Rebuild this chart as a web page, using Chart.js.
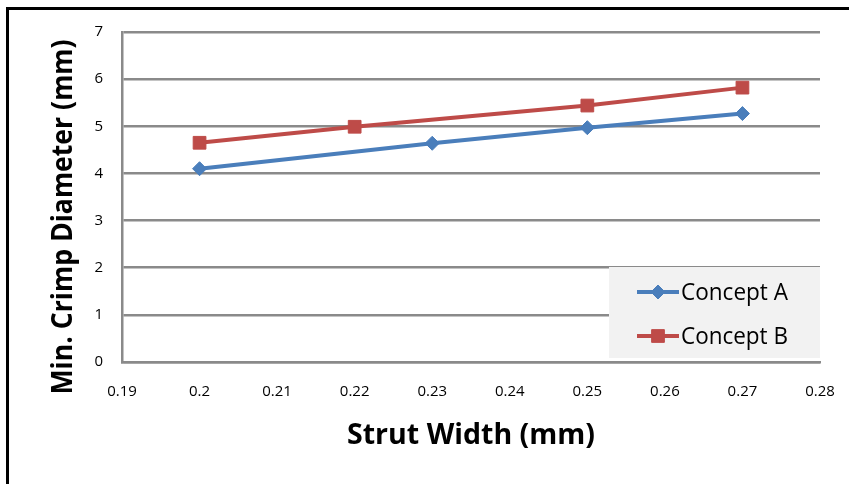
<!DOCTYPE html>
<html>
<head>
<meta charset="utf-8">
<script src="https://cdn.jsdelivr.net/npm/chart.js@4"></script>
<style>
html,body{margin:0;padding:0;background:#fff;}
#wrap{position:relative;width:849px;height:484px;}
</style>
</head>
<body>
<div id="wrap"><canvas id="c" width="849" height="484"></canvas></div>
<script>
const seriesNames = ["Concept A", "Concept B"];
const xA = [0.2, 0.23, 0.25, 0.27];
const yA = [4.1, 4.64, 4.97, 5.27];
const xB = [0.2, 0.22, 0.25, 0.27];
const yB = [4.65, 4.99, 5.44, 5.82];
const xTickLabels = ["0.19","0.2","0.21","0.22","0.23","0.24","0.25","0.26","0.27","0.28"];
const yTickLabels = ["0","1","2","3","4","5","6","7"];
const xTitle = "Strut Width (mm)";
const yTitle = "Min. Crimp Diameter (mm)";

const FONT = "'Open Sans', 'DejaVu Sans', sans-serif";
const BLUE = "#4A7EBB";
const RED = "#BE4B48";
const GRID = "#8A8A8A";

const frame = {
  id: 'frame',
  beforeDraw(chart) {
    const ctx = chart.ctx;
    ctx.save();
    ctx.fillStyle = '#fff';
    ctx.fillRect(0, 0, chart.width, chart.height);
    ctx.fillStyle = '#000';
    ctx.fillRect(6, 7, chart.width, 3);
    ctx.fillRect(6, 7, 3, chart.height);
    ctx.restore();
  }
};

function drawScaledText(ctx, text, x, y, targetW, font, rot) {
  ctx.save();
  ctx.font = font;
  const w = ctx.measureText(text).width;
  ctx.translate(x, y);
  if (rot) ctx.rotate(rot);
  ctx.scale(targetW / w, 1);
  ctx.textAlign = 'center';
  ctx.textBaseline = 'middle';
  ctx.fillStyle = '#000';
  ctx.fillText(text, 0, 0);
  ctx.restore();
}

const titles = {
  id: 'titles',
  afterDraw(chart) {
    const ctx = chart.ctx;
    drawScaledText(ctx, xTitle, 471, 436, 248, "bold 28px " + FONT, 0);
    drawScaledText(ctx, yTitle, 64, 217, 355, "bold 28px " + FONT, -Math.PI / 2);
  }
};

const legendBox = {
  id: 'legendBox',
  afterDatasetsDraw(chart) {
    const ctx = chart.ctx;
    const ca = chart.chartArea;
    ctx.save();
    ctx.fillStyle = '#F2F2F2';
    ctx.fillRect(609, 267, ca.right - 609, 91);
    const rows = [292, 336];
    chart.data.datasets.forEach((ds, i) => {
      const yy = rows[i];
      ctx.strokeStyle = ds.borderColor;
      ctx.lineWidth = 4;
      ctx.beginPath();
      ctx.moveTo(637, yy);
      ctx.lineTo(679, yy);
      ctx.stroke();
      ctx.save();
      ctx.fillStyle = ds.pointBackgroundColor;
      ctx.strokeStyle = ds.pointBorderColor;
      ctx.lineWidth = 1;
      Chart.helpers.drawPoint(ctx, {pointStyle: ds.pointStyle, radius: ds.pointRadius, borderWidth: 1, rotation: 0}, 658, yy);
      ctx.restore();
      ctx.save();
      ctx.font = "23px " + FONT;
      const w = ctx.measureText(ds.label).width;
      ctx.translate(681, yy);
      ctx.scale(107 / w, 1);
      ctx.fillStyle = '#000';
      ctx.textAlign = 'left';
      ctx.textBaseline = 'middle';
      ctx.fillText(ds.label, 0, 1);
      ctx.restore();
    });
    ctx.restore();
  }
};

new Chart(document.getElementById('c'), {
  type: 'line',
  data: {
    datasets: [
      {
        label: seriesNames[0],
        data: xA.map((x, i) => ({x: x, y: yA[i]})),
        borderColor: BLUE,
        backgroundColor: BLUE,
        pointBackgroundColor: BLUE,
        pointBorderColor: BLUE,
        borderWidth: 4,
        pointStyle: 'rectRot',
        pointRadius: 7,
        pointBorderWidth: 1,
        tension: 0
      },
      {
        label: seriesNames[1],
        data: xB.map((x, i) => ({x: x, y: yB[i]})),
        borderColor: RED,
        backgroundColor: RED,
        pointBackgroundColor: RED,
        pointBorderColor: RED,
        borderWidth: 4,
        pointStyle: 'rect',
        pointRadius: 9,
        pointBorderWidth: 1,
        tension: 0
      }
    ]
  },
  options: {
    responsive: false,
    animation: false,
    devicePixelRatio: 1,
    layout: { padding: { left: 0, top: 32, right: 29, bottom: 0 } },
    plugins: {
      legend: { display: false },
      tooltip: { enabled: false }
    },
    scales: {
      x: {
        type: 'linear',
        min: 0.19,
        max: 0.28,
        ticks: {
          stepSize: 0.01,
          padding: 21,
          color: '#000',
          font: { family: FONT, size: 15 },
          maxRotation: 0,
          autoSkip: false,
          callback: (v, i) => xTickLabels[i]
        },
        grid: { display: false, drawTicks: false },
        border: { display: true, color: GRID, width: 2.5 },
        afterFit(s) { s.height = 122; s.paddingLeft = 0; s.paddingRight = 0; }
      },
      y: {
        min: 0,
        max: 7,
        ticks: {
          stepSize: 1,
          padding: 19,
          color: '#000',
          font: { family: FONT, size: 15 },
          callback: (v, i) => yTickLabels[i]
        },
        grid: { color: GRID, lineWidth: 2.5, drawTicks: false },
        border: { display: true, color: GRID, width: 2.5 },
        afterFit(s) { s.width = 122; s.paddingTop = 0; s.paddingBottom = 0; }
      }
    }
  },
  plugins: [frame, titles, legendBox]
});
</script>
</body>
</html>
